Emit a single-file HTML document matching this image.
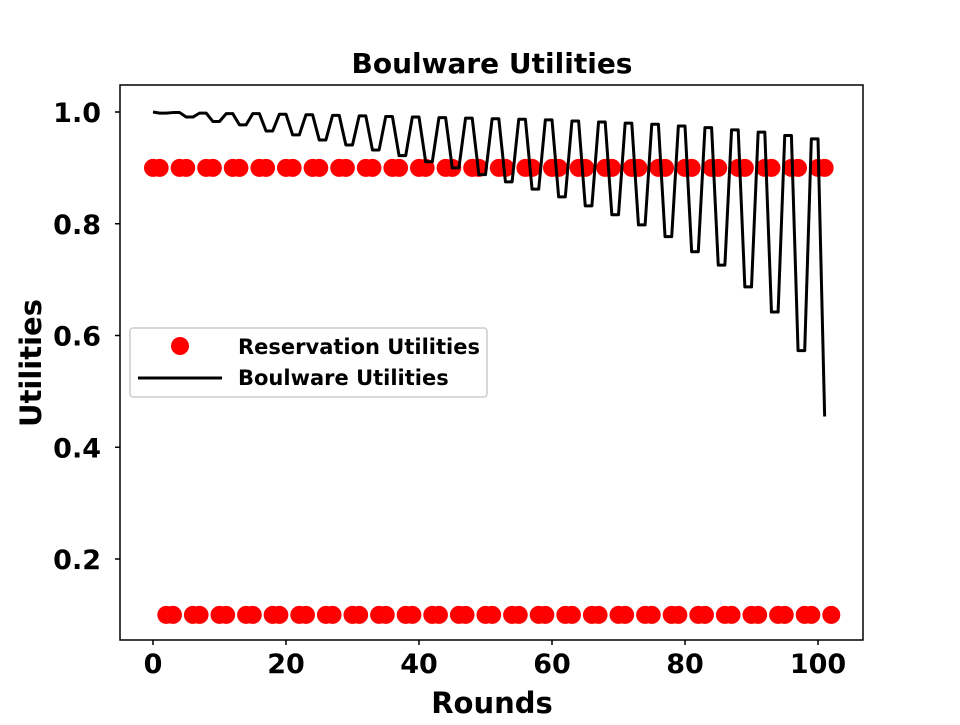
<!DOCTYPE html>
<html><head><meta charset="utf-8"><style>
body{margin:0;background:#fff}
text{font-family:"DejaVu Sans","Liberation Sans",sans-serif;font-weight:bold}
</style></head><body>
<svg id="c" width="960" height="720">
<rect x="0" y="0" width="960" height="720" fill="#fff"/>
<g id="plot"></g>
</svg>
<script>
const xTicks=[0,20,40,60,80,100];
const yTicks=[0.2,0.4,0.6,0.8,1.0];
const topDotValue=0.9;
const bottomDotValue=0.1;
// round 0 value, then peak per cycle k (rounds 4k+3, 4k+4)
const startVal=1.0;
const peakVals=[0.999,0.998,0.997,0.997,0.996,0.995,0.994,0.993,0.992,0.991,0.990,0.989,0.988,0.987,0.986,0.984,0.982,0.980,0.978,0.975,0.972,0.968,0.964,0.958,0.952];
// trough per cycle k (rounds 4k+1, 4k+2)
const troughVals=[0.998,0.991,0.983,0.977,0.966,0.959,0.950,0.941,0.932,0.922,0.911,0.900,0.888,0.875,0.862,0.848,0.832,0.816,0.798,0.777,0.750,0.726,0.687,0.642,0.573];
const finalVal=0.455;
const NS="http://www.w3.org/2000/svg";
const L=120,R=863,T=85,B=640;
const X=v=>153+v*6.65;
const Y=v=>112+(1.0-v)*558.75;
const g=document.getElementById('plot');
function mk(tag,at){const e=document.createElementNS(NS,tag);for(const k in at)e.setAttribute(k,at[k]);return e;}
for(let r=0;r<=102;r++){
  const m=r%4;
  let v=null;
  if((m===0||m===1)&&r<=101)v=topDotValue;
  if(m===2||m===3)v=bottomDotValue;
  if(v===null)continue;
  const c=mk('circle',{cx:X(r),cy:Y(v),r:9,fill:'#f00'});
  
  
  g.appendChild(c);
}
const series=[startVal];
for(let r=1;r<=101;r++){
  const m=r%4;
  if(m===1||m===2)series.push(troughVals[Math.floor(r/4)]);
  else if(m===3)series.push(peakVals[Math.floor(r/4)]);
  else series.push(peakVals[r/4-1]);
}
series[101]=finalVal;
const pts=series.map((v,i)=>X(i)+','+Y(v)).join(' ');
const pl=mk('polyline',{points:pts,fill:'none',stroke:'#000','stroke-width':3,'stroke-linejoin':'round'});


g.appendChild(pl);
const fr=mk('rect',{x:L,y:T,width:R-L,height:B-T,fill:'none',stroke:'#000','stroke-width':1.5});


g.appendChild(fr);
xTicks.forEach(t=>{
  const l=mk('line',{x1:X(t),x2:X(t),y1:B,y2:B+5,stroke:'#000','stroke-width':1.5});
  
  
  g.appendChild(l);
  const tx=mk('text',{x:X(t),y:B+33,'text-anchor':'middle','font-size':27});
  tx.textContent=t;
  
  
  g.appendChild(tx);
});
yTicks.forEach(t=>{
  const l=mk('line',{x1:L-5,x2:L,y1:Y(t),y2:Y(t),stroke:'#000','stroke-width':1.5});
  
  
  g.appendChild(l);
  const tx=mk('text',{x:L-19,y:Y(t)+10,'text-anchor':'end','font-size':27});
  tx.textContent=t.toFixed(1);
  
  
  g.appendChild(tx);
});
</script>
<svg width="960" height="720" style="position:absolute;left:0;top:0">
<text x="492" y="73" text-anchor="middle" font-size="28">Boulware Utilities</text>
<text x="492" y="713" text-anchor="middle" font-size="29">Rounds</text>
<text transform="translate(41,363) rotate(-90)" text-anchor="middle" font-size="29">Utilities</text>
<g>
<rect x="130" y="328" width="357" height="69" rx="3" fill="#fff" stroke="#ccc" stroke-width="1.5"/>
<circle cx="180" cy="346" r="9" fill="#f00"/>
<text x="238" y="354" font-size="21">Reservation Utilities</text>
<line x1="138" y1="378" x2="222" y2="378" stroke="#000" stroke-width="3"/>
<text x="238" y="385" font-size="21">Boulware Utilities</text>
</g>
</svg>
</body></html>
